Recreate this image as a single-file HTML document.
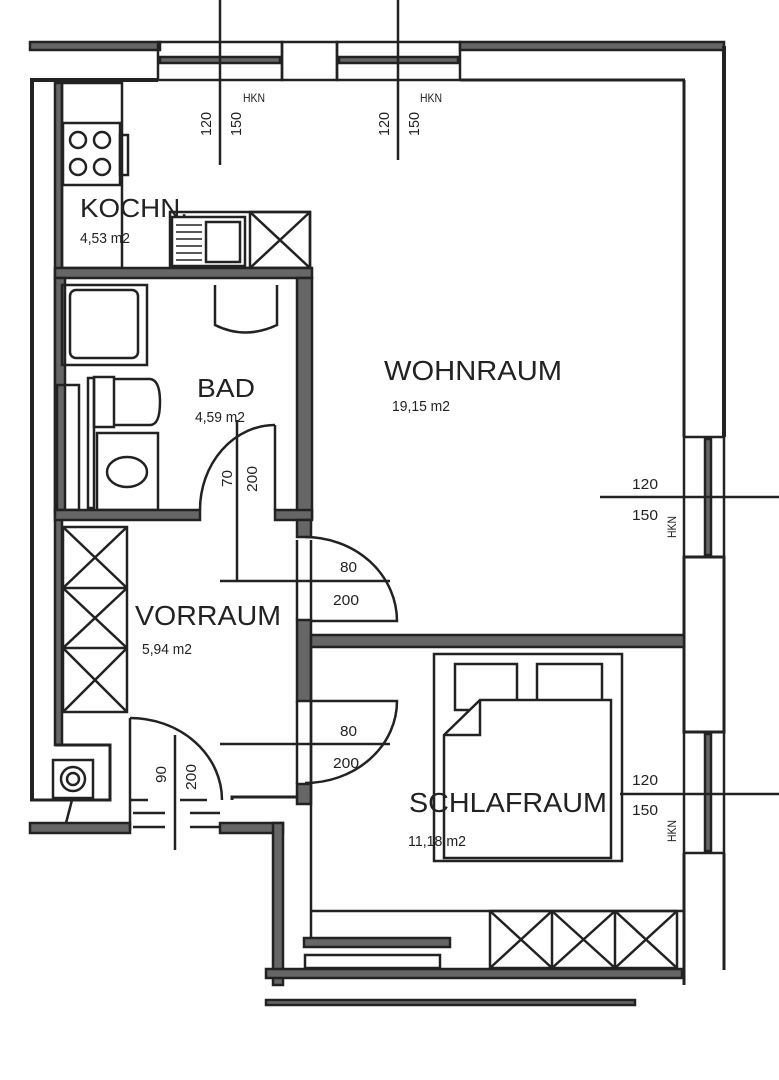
<!DOCTYPE html>
<html><head><meta charset="utf-8"><style>
html,body{margin:0;padding:0;background:#fff}
svg{display:block}
text{font-family:"Liberation Sans Narrow","Liberation Sans",sans-serif;fill:#222}
</style></head><body>
<svg width="779" height="1080" viewBox="0 0 779 1080" xmlns="http://www.w3.org/2000/svg">
<g fill="none" stroke="#222" stroke-width="2.5">
<rect x="30" y="42" width="130" height="8" fill="#666"/>
<rect x="158" y="42" width="124" height="38"/>
<rect x="160" y="57" width="120" height="6" fill="#666"/>
<rect x="282" y="42" width="55" height="38"/>
<rect x="337" y="42" width="123" height="38"/>
<rect x="339" y="57" width="119" height="6" fill="#666"/>
<rect x="460" y="42" width="264" height="8" fill="#666"/>
<line x1="30" y1="80" x2="158" y2="80" stroke-width="4"/>
<line x1="460" y1="80" x2="685" y2="80" stroke-width="3"/>
<line x1="724" y1="46" x2="724" y2="437" stroke-width="4"/>
<line x1="684" y1="80" x2="684" y2="437" stroke-width="3"/>
<rect x="684" y="437" width="40" height="120"/>
<rect x="705" y="439" width="6" height="116" fill="#666"/>
<rect x="684" y="557" width="40" height="175" stroke-width="3"/>
<rect x="684" y="732" width="40" height="121"/>
<rect x="705" y="734" width="6" height="117" fill="#666"/>
<line x1="724" y1="853" x2="724" y2="970" stroke-width="3"/>
<line x1="684" y1="853" x2="684" y2="985" stroke-width="3"/>
<line x1="32" y1="80" x2="32" y2="800" stroke-width="4"/>
<rect x="55" y="83" width="7" height="662" fill="#666"/>
<path d="M55 745 H110 V800 H30" stroke-width="3"/>
<rect x="53" y="760" width="40" height="38"/>
<circle cx="73" cy="779" r="12"/><circle cx="73" cy="779" r="6"/>
<rect x="30" y="823" width="100" height="10" fill="#666"/>
<line x1="72" y1="800" x2="66" y2="823"/>
<rect x="62" y="83" width="60" height="185"/>
<rect x="63" y="123" width="57" height="62"/>
<circle cx="78" cy="140" r="8"/><circle cx="102" cy="140" r="8"/>
<circle cx="78" cy="167" r="8"/><circle cx="102" cy="167" r="8"/>
<rect x="120" y="135" width="8" height="40"/>
<rect x="170" y="212" width="140" height="56"/>
<rect x="172" y="217" width="73" height="49"/>
<rect x="206" y="222" width="34" height="40"/>
<g stroke-width="1.5"><line x1="176" y1="225" x2="202" y2="225"/><line x1="176" y1="232" x2="202" y2="232"/><line x1="176" y1="239" x2="202" y2="239"/><line x1="176" y1="246" x2="202" y2="246"/><line x1="176" y1="253" x2="202" y2="253"/><line x1="176" y1="260" x2="202" y2="260"/></g>
<rect x="250" y="212" width="60" height="56"/>
<line x1="250" y1="212" x2="310" y2="268"/><line x1="310" y1="212" x2="250" y2="268"/>
<rect x="55" y="268" width="257" height="10" fill="#666"/>
<rect x="55" y="278" width="10" height="235" fill="#666"/>
<rect x="297" y="278" width="15" height="240" fill="#666"/>
<rect x="62" y="285" width="85" height="80"/>
<rect x="70" y="290" width="68" height="68" rx="6"/>
<path d="M215 285 V325 Q245 340 277 325 V285"/>
<rect x="88" y="378" width="6" height="130"/>
<rect x="57" y="385" width="22" height="125"/>
<rect x="94" y="377" width="20" height="50"/>
<path d="M114 379 H150 Q160 380 160 402 Q160 425 150 425 H114"/>
<rect x="97" y="433" width="61" height="77"/>
<ellipse cx="127" cy="472" rx="20" ry="15"/>
<rect x="55" y="510" width="145" height="10" fill="#666"/>
<rect x="275" y="510" width="37" height="10" fill="#666"/>
<line x1="275" y1="425" x2="275" y2="510"/>
<path d="M200 510 A75 85 0 0 1 275 425"/>
<line x1="237" y1="420" x2="237" y2="580"/>
<rect x="63" y="527" width="64" height="185"/>
<line x1="63" y1="588" x2="127" y2="588"/><line x1="63" y1="648" x2="127" y2="648"/>
<path d="M63 527 L127 588 M127 527 L63 588 M63 588 L127 648 M127 588 L63 648 M63 648 L127 712 M127 648 L63 712"/>
<rect x="297" y="520" width="14" height="17" fill="#666"/>
<rect x="297" y="620" width="14" height="81" fill="#666"/>
<rect x="297" y="784" width="14" height="20" fill="#666"/>
<line x1="297" y1="540" x2="297" y2="620"/><line x1="311" y1="540" x2="311" y2="620"/>
<line x1="297" y1="701" x2="297" y2="784"/><line x1="311" y1="701" x2="311" y2="784"/>
<path d="M305 537 A92 84 0 0 1 397 621 H311"/>
<path d="M311 701 H397 A92 82 0 0 1 305 783"/>
<line x1="220" y1="581" x2="390" y2="581"/>
<line x1="220" y1="744" x2="390" y2="744"/>
<rect x="311" y="635" width="373" height="12" fill="#666"/>
<line x1="130" y1="718" x2="130" y2="830"/>
<path d="M130 718 A92 82 0 0 1 222 800"/>
<line x1="175" y1="735" x2="175" y2="850"/>
<path d="M232 800 V797 H297" stroke-width="3"/>
<rect x="220" y="823" width="63" height="10" fill="#666"/>
<rect x="273" y="823" width="10" height="162" fill="#666"/>
<line x1="130" y1="800" x2="148" y2="800"/><line x1="133" y1="813" x2="165" y2="813"/><line x1="133" y1="827" x2="165" y2="827"/>
<line x1="180" y1="800" x2="207" y2="800"/><line x1="190" y1="813" x2="220" y2="813"/><line x1="190" y1="827" x2="220" y2="827"/>
<line x1="311" y1="647" x2="311" y2="940"/>
<rect x="434" y="654" width="188" height="207"/>
<rect x="455" y="664" width="62" height="46"/>
<rect x="537" y="664" width="65" height="46"/>
<path d="M480 700 H611 V858 H444 V735 Z" fill="#fff"/>
<path d="M444 735 H480 V700"/>
<line x1="311" y1="911" x2="684" y2="911"/>
<rect x="490" y="911" width="187" height="57"/>
<line x1="552" y1="911" x2="552" y2="968"/><line x1="615" y1="911" x2="615" y2="968"/>
<path d="M490 911 L552 968 M552 911 L490 968 M552 911 L615 968 M615 911 L552 968 M615 911 L677 968 M677 911 L615 968"/>
<rect x="304" y="938" width="146" height="9" fill="#666"/>
<rect x="305" y="955" width="135" height="13"/>
<rect x="266" y="969" width="416" height="9" fill="#666"/>
<rect x="266" y="1000" width="369" height="5" fill="#666"/>
<line x1="220" y1="0" x2="220" y2="165"/>
<line x1="398" y1="0" x2="398" y2="160"/>
<line x1="600" y1="497" x2="779" y2="497"/>
<line x1="620" y1="794" x2="779" y2="794"/>
</g>
<g font-size="15">
<text transform="translate(211,136) rotate(-90)" textLength="24" lengthAdjust="spacingAndGlyphs">120</text>
<text transform="translate(241,136) rotate(-90)" textLength="24" lengthAdjust="spacingAndGlyphs">150</text>
<text x="243" y="102" font-size="12" textLength="22" lengthAdjust="spacingAndGlyphs">HKN</text>
<text transform="translate(389,136) rotate(-90)" textLength="24" lengthAdjust="spacingAndGlyphs">120</text>
<text transform="translate(419,136) rotate(-90)" textLength="24" lengthAdjust="spacingAndGlyphs">150</text>
<text x="420" y="102" font-size="12" textLength="22" lengthAdjust="spacingAndGlyphs">HKN</text>
<text x="632" y="489" textLength="26" lengthAdjust="spacingAndGlyphs">120</text>
<text x="632" y="520" textLength="26" lengthAdjust="spacingAndGlyphs">150</text>
<text transform="translate(676,538) rotate(-90)" font-size="12" textLength="22" lengthAdjust="spacingAndGlyphs">HKN</text>
<text x="632" y="785" textLength="26" lengthAdjust="spacingAndGlyphs">120</text>
<text x="632" y="815" textLength="26" lengthAdjust="spacingAndGlyphs">150</text>
<text transform="translate(676,842) rotate(-90)" font-size="12" textLength="22" lengthAdjust="spacingAndGlyphs">HKN</text>
<text x="340" y="572" textLength="17" lengthAdjust="spacingAndGlyphs">80</text>
<text x="333" y="605" textLength="26" lengthAdjust="spacingAndGlyphs">200</text>
<text x="340" y="736" textLength="17" lengthAdjust="spacingAndGlyphs">80</text>
<text x="333" y="768" textLength="26" lengthAdjust="spacingAndGlyphs">200</text>
<text transform="translate(232,487) rotate(-90)" textLength="17" lengthAdjust="spacingAndGlyphs">70</text>
<text transform="translate(257,492) rotate(-90)" textLength="26" lengthAdjust="spacingAndGlyphs">200</text>
<text transform="translate(166,783) rotate(-90)" textLength="17" lengthAdjust="spacingAndGlyphs">90</text>
<text transform="translate(196,790) rotate(-90)" textLength="26" lengthAdjust="spacingAndGlyphs">200</text>
</g>
<text x="80" y="217" font-size="26" textLength="108" lengthAdjust="spacingAndGlyphs">KOCHN.</text>
<text x="80" y="243" font-size="15" textLength="50" lengthAdjust="spacingAndGlyphs">4,53 m2</text>
<text x="197" y="397" font-size="26" textLength="58" lengthAdjust="spacingAndGlyphs">BAD</text>
<text x="195" y="422" font-size="15" textLength="50" lengthAdjust="spacingAndGlyphs">4,59 m2</text>
<text x="384" y="380" font-size="28" textLength="178" lengthAdjust="spacingAndGlyphs">WOHNRAUM</text>
<text x="392" y="411" font-size="15" textLength="58" lengthAdjust="spacingAndGlyphs">19,15 m2</text>
<text x="135" y="625" font-size="28" textLength="146" lengthAdjust="spacingAndGlyphs">VORRAUM</text>
<text x="142" y="654" font-size="15" textLength="50" lengthAdjust="spacingAndGlyphs">5,94 m2</text>
<text x="409" y="812" font-size="28" textLength="198" lengthAdjust="spacingAndGlyphs">SCHLAFRAUM</text>
<text x="408" y="846" font-size="15" textLength="58" lengthAdjust="spacingAndGlyphs">11,18 m2</text>
</svg>
</body></html>
